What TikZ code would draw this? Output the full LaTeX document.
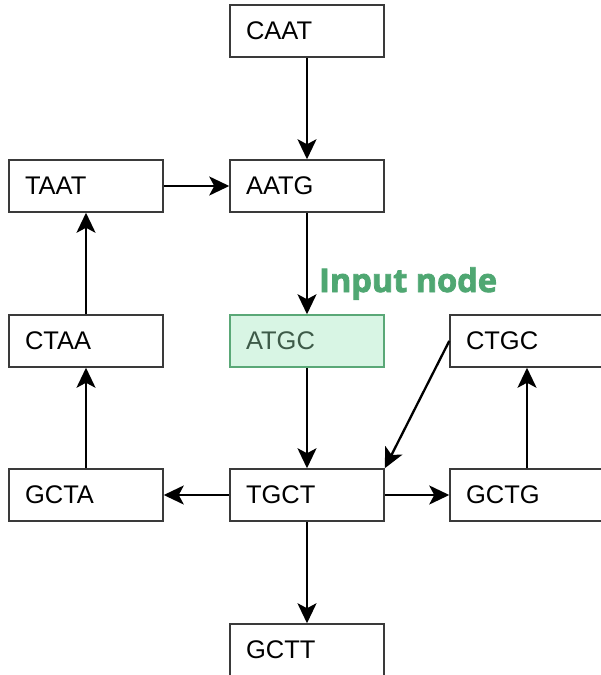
\documentclass[tikz,border=0pt]{standalone}
\usepackage{fontspec}
\setmainfont{Liberation Sans}
\newfontfamily\labelfont[UprightFont={* Bold}, UprightFeatures={FakeBold=2.5}]{Open Sans}
\usetikzlibrary{arrows.meta}
\definecolor{boxline}{HTML}{3A3A3A}
\definecolor{inputfill}{HTML}{D8F5E4}
\definecolor{inputline}{HTML}{5AA877}
\definecolor{inputtext}{HTML}{3D5A48}
\definecolor{notegreen}{HTML}{4FA772}
\tikzset{
  x=1pt, y=-1pt,
  kmer/.style={draw=boxline, line width=1.5pt, fill=white,
    minimum height=52pt, text width=122pt, inner xsep=16pt, inner ysep=0pt,
    align=left, font=\fontsize{25.5}{30}\selectfont, text=black},
  inputbox/.style={kmer, fill=inputfill, draw=inputline, text=inputtext},
  edge/.style={line width=2.3pt, -{Stealth[length=20pt, width=19pt, inset=5pt]}}
}
\begin{document}
\begin{tikzpicture}
\useasboundingbox (0,0) rectangle (601,675);
\clip (0,0) rectangle (601,675);
\fill[white] (0,0) rectangle (601,675);
% nodes of the graph
\node[kmer] (caat) at (307,31) {CAAT};
\node[kmer] (taat) at (86,186) {TAAT};
\node[kmer] (aatg) at (307,186) {AATG};
\node[kmer] (ctaa) at (86,341) {CTAA};
\node[inputbox] (atgc) at (307,341) {ATGC};
\node[kmer] (ctgc) at (527,341) {CTGC};
\node[kmer] (gcta) at (86,495) {GCTA};
\node[kmer] (tgct) at (307,495) {TGCT};
\node[kmer] (gctg) at (527,495) {GCTG};
\node[kmer] (gctt) at (307,650) {GCTT};
% label of the start node
\node[anchor=base west, inner sep=0pt, text=notegreen,
  font=\labelfont\fontsize{32.5}{38}\selectfont] (inlabel) at (319,292) {Input node};
% edges
\draw[edge] (caat) -- (aatg);
\draw[edge] (taat) -- (aatg);
\draw[edge] (aatg) -- (atgc);
\draw[edge] (ctaa) -- (taat);
\draw[edge] (gcta) -- (ctaa);
\draw[edge] (atgc) -- (tgct);
\draw[edge] (tgct) -- (gcta);
\draw[edge] (tgct) -- (gctg);
\draw[edge] (gctg) -- (ctgc);
\draw[edge] (tgct) -- (gctt);
\draw[edge] (ctgc.west) -- (tgct.north east);
\end{tikzpicture}
\end{document}
